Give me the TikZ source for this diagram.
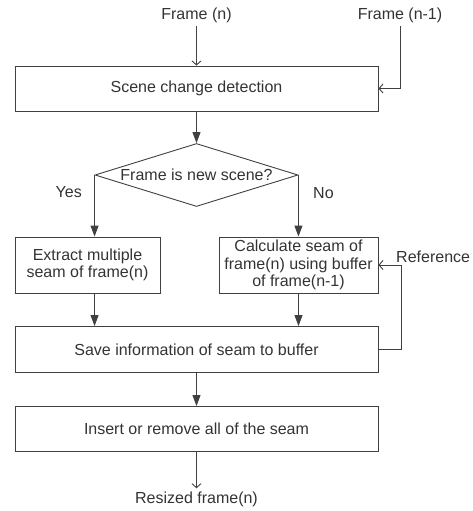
\documentclass[tikz,border=0pt]{standalone}
\usepackage{fontspec}
\setmainfont{Liberation Sans}
\usetikzlibrary{positioning,shapes.geometric,arrows.meta}

\begin{document}
\begin{tikzpicture}[
                x=1pt, y=-1pt,
                on grid,
                font=\fontsize{16pt}{17.5pt}\selectfont,
                color=black!75,
                text=black!80,
                line width=0.9pt,
                block/.style={draw, rectangle, align=center, inner sep=0pt},
                decision/.style={draw, diamond, aspect=3.2, inner sep=-3pt,
                    minimum width=203pt, minimum height=63pt},
                flow/.style={-{Triangle[length=11pt,width=8pt]}},
                feed/.style={-{Straight Barb[length=4pt,width=9pt]}}]
            \path[use as bounding box] (0,0) rectangle (473,511);
            \node[block, minimum width=363pt, minimum height=45pt] (detect) at (196.5,88.5) {Scene change detection};
            \node (frame_n) [above=73.5pt of detect] {Frame (n)};
            \node (frame_prev) [right=203.5pt of frame_n] {Frame (n-1)};
            \node[decision] (decide) [below=86.5pt of detect] {Frame is new scene?};
            \node[block, minimum width=145pt, minimum height=56pt] (extract)
                [below left=90pt and 109pt of decide] {Extract multiple\\seam of frame(n)};
            \node[block, minimum width=159pt, minimum height=56pt] (calc)
                [right=211pt of extract] {Calculate seam of\\frame(n) using buffer\\of frame(n-1)};
            \node[block, minimum width=363pt, minimum height=46pt] (save)
                [below=174.5pt of decide] {Save information of seam to buffer};
            \node[block, minimum width=363pt, minimum height=45pt] (insert)
                [below=79.5pt of save] {Insert or remove all of the seam};
            \node (resized) [below=70.5pt of insert] {Resized frame(n)};
            \path[flow]
            (detect) edge (decide)
            (decide.west) edge node[pos=0.27, left=9pt] {Yes} (decide.west |- extract.north)
            (decide.east) edge node[pos=0.3, right=11pt] {No} (decide.east |- calc.north)
            (extract.south -| decide.west) edge (save.north -| decide.west)
            (calc.south) edge (calc.south |- save.north)
            (save) edge (insert)
            ;
            \path[feed]
            (frame_n) edge (detect)
            (insert) edge (resized)
            ;
            \draw[feed] (frame_prev) |- (detect);
            \draw[feed] (save.east) -- ++(23,0) |- node[pos=0.5, above right=-1pt and -9pt] {Reference} (calc.east);
        \end{tikzpicture}
\end{document}
